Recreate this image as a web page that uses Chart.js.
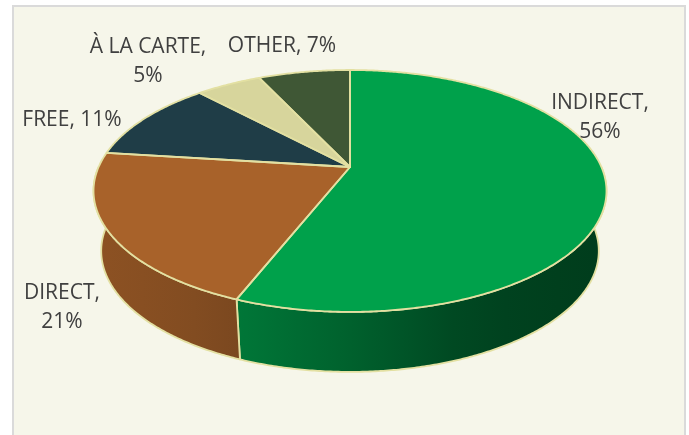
<!DOCTYPE html>
<html lang="en">
<head>
<meta charset="UTF-8">
<title>Channel Mix</title>
<script src="https://cdn.jsdelivr.net/npm/chart.js"></script>
<style>
    html, body {
        margin: 0;
        padding: 0;
        background: #ffffff;
        overflow: hidden;
    }
    .panel {
        position: absolute;
        left: 12px;
        top: 5px;
        width: 674px;
        height: 450px;
        box-sizing: border-box;
        background: #f6f6ea;
        border: 2px solid #dadada;
    }
    .wrap {
        position: absolute;
        left: 0;
        top: 0;
        width: 689px;
        height: 435px;
    }
</style>
</head>
<body>
<div class="panel"></div>
<div class="wrap"><canvas id="pie"></canvas></div>
<script>
    const categories = ['INDIRECT', 'DIRECT', 'FREE', 'À LA CARTE', 'OTHER'];
    const shares = [56, 21, 11, 5, 7];
    const sliceColors = ['#00a14b', '#a8622a', '#1f3d47', '#d7d59c', '#3f5735'];

    // 3D disc geometry (perspective projection of a flat disc)
    const CX = 350, CY = 167;        // projected centre of the top face
    const A = 251.4, B = 116.2;      // horizontal / depth half-axes
    const K = 0.198;                 // perspective strength
    const DEPTH = 60;                // wall height
    const BOTTOM_SCALE = 0.97;       // bottom rim is a little narrower
    const EDGE = '#e3e0a2';

    // label placement: [x, y] of the block centre, and whether the value wraps
    const labelAnchors = [[600, 118], [62, 308], [72, 120], [148, 62], [282, 46]];
    const labelWrap = [true, true, false, true, false];
    const LINE_H = 29;

    // t is measured clockwise from 12 o'clock
    function proj(t, bottom) {
        const u = Math.sin(t), v = Math.cos(t);
        const w = 1 + K * v;
        const s = bottom ? BOTTOM_SCALE : 1;
        return [CX + A * s * u / w, CY + (bottom ? DEPTH : 0) - B * v / w];
    }

    function hexRgb(hex) {
        const n = parseInt(hex.slice(1), 16);
        return [(n >> 16) & 255, (n >> 8) & 255, n & 255];
    }

    // wall shading: lighter on the left, darker toward the right
    const shadeU = [-1, -0.5, 0, 0.5, 1];
    const shadeF = [0.84, 0.76, 0.6, 0.42, 0.37];
    function shadeAt(u) {
        for (let i = 0; i < shadeU.length - 1; i++) {
            if (u <= shadeU[i + 1]) {
                const f = (u - shadeU[i]) / (shadeU[i + 1] - shadeU[i]);
                return shadeF[i] + f * (shadeF[i + 1] - shadeF[i]);
            }
        }
        return shadeF[shadeF.length - 1];
    }

    function rimPoints(t0, t1, bottom) {
        const pts = [];
        const steps = Math.max(2, Math.ceil((t1 - t0) / (Math.PI / 360)));
        for (let i = 0; i <= steps; i++) {
            pts.push(proj(t0 + (t1 - t0) * i / steps, bottom));
        }
        return pts;
    }

    const pie3d = {
        id: 'pie3d',
        beforeDatasetsDraw(chart) {
            const ctx = chart.ctx;
            const arcs = chart.getDatasetMeta(0).data;
            const slices = arcs.map((a, i) => ({
                t0: a.startAngle + Math.PI / 2,
                t1: a.endAngle + Math.PI / 2,
                color: sliceColors[i]
            }));

            ctx.save();
            ctx.lineJoin = 'round';
            ctx.strokeStyle = EDGE;
            ctx.lineWidth = 1.8;

            // front walls
            slices.forEach(s => {
                const a = Math.max(s.t0, Math.PI / 2);
                const b = Math.min(s.t1, Math.PI * 1.5);
                if (b <= a) return;
                const top = rimPoints(a, b, false);
                const bot = rimPoints(a, b, true).reverse();
                const rgb = hexRgb(s.color);
                const x0 = CX - A * 1.03, x1 = CX + A * 1.03;
                const grad = ctx.createLinearGradient(x0, 0, x1, 0);
                for (let i = 0; i <= 10; i++) {
                    const f = shadeAt(-1 + i / 5);
                    grad.addColorStop(i / 10, `rgb(${rgb.map(c => Math.round(c * f)).join(',')})`);
                }
                ctx.beginPath();
                top.concat(bot).forEach((p, i) => i ? ctx.lineTo(p[0], p[1]) : ctx.moveTo(p[0], p[1]));
                ctx.closePath();
                ctx.fillStyle = grad;
                ctx.fill();
                ctx.stroke();
            });

            // top face
            const paths = slices.map(s => {
                const p = new Path2D();
                p.moveTo(CX, CY);
                rimPoints(s.t0, s.t1, false).forEach(q => p.lineTo(q[0], q[1]));
                p.closePath();
                return p;
            });
            paths.forEach((p, i) => {
                ctx.fillStyle = slices[i].color;
                ctx.fill(p);
            });
            paths.forEach(p => ctx.stroke(p));
            ctx.restore();
            return false;
        },
        afterDraw(chart) {
            const ctx = chart.ctx;
            const total = shares.reduce((a, b) => a + b, 0);
            ctx.save();
            ctx.font = '21px "Open Sans"';
            ctx.fillStyle = '#404040';
            ctx.textAlign = 'center';
            ctx.textBaseline = 'middle';
            categories.forEach((name, i) => {
                const pct = Math.round(shares[i] / total * 100) + '%';
                const lines = labelWrap[i] ? [name + ',', pct] : [name + ', ' + pct];
                const [x, y] = labelAnchors[i];
                const y0 = y - (lines.length - 1) * LINE_H / 2;
                lines.forEach((ln, j) => ctx.fillText(ln, x, y0 + j * LINE_H));
            });
            ctx.restore();
        }
    };

    new Chart(document.getElementById('pie'), {
        type: 'pie',
        data: {
            labels: categories,
            datasets: [{
                data: shares,
                backgroundColor: sliceColors,
                borderColor: EDGE
            }]
        },
        options: {
            responsive: true,
            maintainAspectRatio: false,
            animation: false,
            events: [],
            plugins: {
                legend: { display: false },
                tooltip: { enabled: false }
            }
        },
        plugins: [pie3d]
    });
</script>
</body>
</html>
